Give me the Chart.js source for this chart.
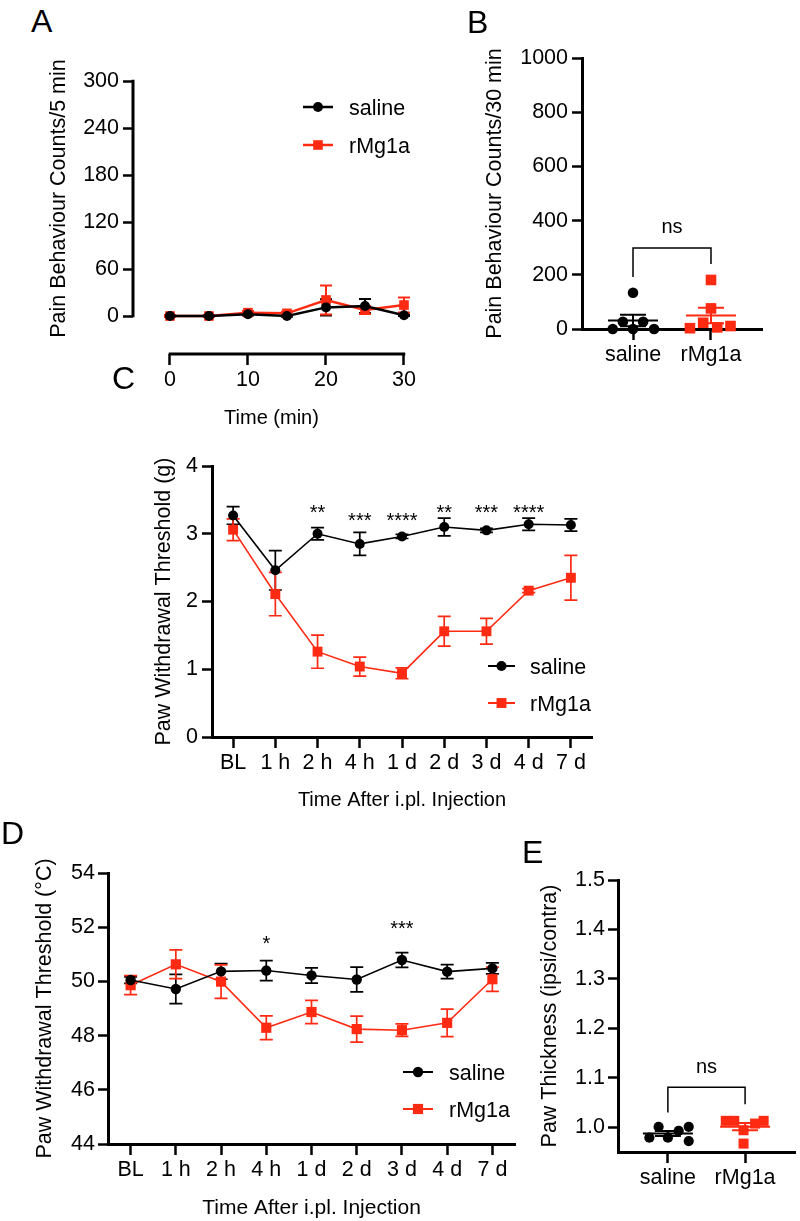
<!DOCTYPE html>
<html>
<head>
<meta charset="utf-8">
<script src="https://cdn.jsdelivr.net/npm/chart.js@4.4.1/dist/chart.umd.min.js"></script>
<style>
html,body{margin:0;padding:0;background:#fff;}
#wrap{position:relative;width:800px;height:1221px;overflow:hidden;background:#fff;}
canvas{position:absolute;}
.lbl{position:absolute;font-family:"Liberation Sans",Arial,Helvetica,sans-serif;font-size:32px;line-height:32px;color:#000;}
</style>
</head>
<body>
<div id="wrap">
  <canvas id="cA" width="425" height="410" style="left:0px;top:40px;width:425px;height:410px"></canvas>
  <canvas id="cB" width="380" height="370" style="left:420px;top:30px;width:380px;height:370px"></canvas>
  <canvas id="cC" width="560" height="380" style="left:140px;top:440px;width:560px;height:380px"></canvas>
  <canvas id="cD" width="540" height="376" style="left:0px;top:845px;width:540px;height:376px"></canvas>
  <canvas id="cE" width="323" height="371" style="left:480px;top:850px;width:323px;height:371px"></canvas>
  <div class="lbl" style="left:31px;top:5px">A</div>
  <div class="lbl" style="left:467px;top:6px">B</div>
  <div class="lbl" style="left:112px;top:362px">C</div>
  <div class="lbl" style="left:1px;top:817px">D</div>
  <div class="lbl" style="left:522px;top:836px">E</div>
</div>
<script>
// ---------------- DATA ----------------
const seriesNames = ['saline', 'rMg1a'];

// Panel A
const timeMin = [0, 5, 10, 15, 20, 25, 30];
const salineCountsA = [0, 0, 2.3, 0, 11, 12.8, 1];
const salineCountsAErr = [1, 1, 1.5, 1, 10.5, 9, 1];
const rmg1aCountsA = [0, 0, 4.3, 3.4, 20.5, 7.7, 14];
const rmg1aCountsAErr = [1, 1, 2, 2, 18.5, 5, 9.5];
const ticksAy = [0, 60, 120, 180, 240, 300];
const ticksAx = [0, 10, 20, 30];

// Panel B
const groups = ['saline', 'rMg1a'];
const salineTotalB = [0, 27, 0, 27, 0, 134];
const salineTotalBJitter = [-0.26, -0.13, 0, 0.13, 0.27, 0];
const rmg1aTotalB = [3, 23, 76, 181, 6, 11];
const rmg1aTotalBJitter = [-0.27, -0.1, 0, 0, 0.08, 0.25];
const ticksBy = [0, 200, 400, 600, 800, 1000];

// Panels C and D
const timepoints = ['BL', '1 h', '2 h', '4 h', '1 d', '2 d', '3 d', '4 d', '7 d'];
const salineMechC = [3.27, 2.46, 3.00, 2.85, 2.96, 3.10, 3.05, 3.14, 3.13];
const salineMechCErr = [0.13, 0.29, 0.09, 0.17, 0.03, 0.13, 0.03, 0.09, 0.09];
const rmg1aMechC = [3.06, 2.11, 1.26, 1.04, 0.94, 1.56, 1.56, 2.16, 2.35];
const rmg1aMechCErr = [0.16, 0.32, 0.245, 0.14, 0.08, 0.22, 0.19, 0.03, 0.33];
const starsC = ['', '', '**', '***', '****', '**', '***', '****', ''];
const starsCY = [null, null, 3.365, 3.247, 3.247, 3.365, 3.365, 3.365, null];
const ticksCy = [0, 1, 2, 3, 4];

const salineHeatD = [50.05, 49.72, 50.37, 50.40, 50.22, 50.07, 50.79, 50.36, 50.48];
const salineHeatDErr = [0.12, 0.54, 0.29, 0.37, 0.28, 0.46, 0.27, 0.26, 0.2];
const rmg1aHeatD = [49.86, 50.63, 49.99, 48.29, 48.87, 48.24, 48.20, 48.47, 50.08];
const rmg1aHeatDErr = [0.35, 0.53, 0.62, 0.44, 0.43, 0.48, 0.23, 0.51, 0.45];
const starsD = ['', '', '', '*', '', '', '***', '', ''];
const starsDY = [null, null, null, 51.53, null, null, 52.08, null, null];
const ticksDy = [44, 46, 48, 50, 52, 54];

// Panel E
const salineThickE = [0.979, 1.001, 0.979, 0.993, 1.001, 0.972];
const salineThickEJitter = [-0.24, -0.12, 0.0, 0.14, 0.27, 0.27];
const rmg1aThickE = [1.013, 1.013, 0.994, 0.967, 1.0075, 1.013];
const rmg1aThickEJitter = [-0.25, -0.14, -0.02, -0.02, 0.13, 0.24];
const ticksEy = [1.0, 1.1, 1.2, 1.3, 1.4, 1.5];

// ---------------- STYLE ----------------
const BLACK = '#000000';
const RED = '#FF2A12';
const FONT = '"Liberation Sans", Arial, Helvetica, sans-serif';
const TICK_SIZE = 21.5;
Chart.defaults.font.family = FONT;
Chart.defaults.color = BLACK;
Chart.defaults.animation = false;

function marker(ctx, style, x, y, r, color) {
  ctx.save();
  ctx.fillStyle = color;
  ctx.beginPath();
  if (style === 'rect') {
    const s = Math.SQRT1_2 * r;
    ctx.rect(x - s, y - s, 2 * s, 2 * s);
  } else {
    ctx.arc(x, y, r, 0, Math.PI * 2);
  }
  ctx.fill();
  ctx.restore();
}
function textCentered(ctx, text, x, cy, align) {
  ctx.textAlign = align || 'center';
  ctx.textBaseline = 'alphabetic';
  const m = ctx.measureText(text);
  ctx.fillText(text, x, cy + (m.actualBoundingBoxAscent - m.actualBoundingBoxDescent) / 2);
}

const panelExtras = {};

const extrasPlugin = {
  id: 'extras',
  beforeDatasetsDraw(chart) {
    const o = panelExtras[chart.canvas.id] || {};
    const ctx = chart.ctx, ys = chart.scales.y, xs = chart.scales.x;
    if (o.manualAxes) {
      ctx.save();
      ctx.strokeStyle = BLACK;
      ctx.lineWidth = 3;
      ctx.beginPath();
      const lx = chart.chartArea.left;
      ctx.moveTo(lx, ys.getPixelForValue(o.manualAxes.yTo) - 1.25);
      ctx.lineTo(lx, ys.getPixelForValue(o.manualAxes.yFrom) + 1.25);
      const by = chart.chartArea.bottom;
      ctx.moveTo(xs.getPixelForValue(o.manualAxes.xFrom) - 1.25, by);
      ctx.lineTo(xs.getPixelForValue(o.manualAxes.xTo) + 1.25, by);
      ctx.stroke();
      ctx.restore();
    }
    chart.data.datasets.forEach((ds, i) => {
      if (!ds.errors) return;
      const meta = chart.getDatasetMeta(i);
      const cw = o.capHalf || 6.5;
      ctx.save();
      ctx.strokeStyle = ds.borderColor;
      ctx.lineWidth = o.errWidth || 1.7;
      meta.data.forEach((pt, j) => {
        const raw = ds.data[j];
        const v = (typeof raw === 'object') ? raw.y : raw;
        const e = ds.errors[j];
        const y1 = ys.getPixelForValue(v + e), y2 = ys.getPixelForValue(v - e);
        ctx.beginPath();
        ctx.moveTo(pt.x, y1); ctx.lineTo(pt.x, y2);
        ctx.moveTo(pt.x - cw, y1); ctx.lineTo(pt.x + cw, y1);
        ctx.moveTo(pt.x - cw, y2); ctx.lineTo(pt.x + cw, y2);
        ctx.stroke();
      });
      ctx.restore();
    });
  },
  afterDatasetsDraw(chart) {
    const o = panelExtras[chart.canvas.id] || {};
    const ctx = chart.ctx, ys = chart.scales.y, xs = chart.scales.x;
    if (o.meanSem) {
      chart.data.datasets.forEach(ds => {
        const vals = ds.data.map(d => d.y);
        const n = vals.length;
        const m = vals.reduce((a, b) => a + b, 0) / n;
        const sd = Math.sqrt(vals.reduce((a, b) => a + (b - m) * (b - m), 0) / (n - 1));
        const sem = sd / Math.sqrt(n);
        const cx = xs.getPixelForValue(ds.group);
        const pm = ys.getPixelForValue(m), p1 = ys.getPixelForValue(m + sem), p2 = ys.getPixelForValue(m - sem);
        ctx.save();
        ctx.strokeStyle = ds.borderColor;
        ctx.lineWidth = 2;
        ctx.beginPath();
        ctx.moveTo(cx - 25, pm); ctx.lineTo(cx + 25, pm);
        ctx.moveTo(cx, p1); ctx.lineTo(cx, p2);
        ctx.moveTo(cx - 13, p1); ctx.lineTo(cx + 13, p1);
        ctx.moveTo(cx - 13, p2); ctx.lineTo(cx + 13, p2);
        ctx.stroke();
        ctx.restore();
      });
    }
  },
  afterDraw(chart) {
    const o = panelExtras[chart.canvas.id] || {};
    const ctx = chart.ctx, ys = chart.scales.y, xs = chart.scales.x;
    if (o.legend) {
      const L = o.legend;
      ctx.save();
      ctx.font = TICK_SIZE + 'px ' + FONT;
      chart.data.datasets.forEach((ds, i) => {
        const y = L.y + i * L.dy;
        ctx.strokeStyle = ds.borderColor;
        ctx.lineWidth = L.lineWidth;
        ctx.beginPath();
        ctx.moveTo(L.x, y); ctx.lineTo(L.x + L.len, y);
        ctx.stroke();
        marker(ctx, ds.pointStyle, L.x + L.len / 2, y, ds.pointRadius, ds.borderColor);
        ctx.fillStyle = BLACK;
        ctx.textAlign = 'left';
        ctx.textBaseline = 'alphabetic';
        ctx.fillText(ds.label, L.x + L.textOffset, y + 0.36 * TICK_SIZE);
      });
      ctx.restore();
    }
    if (o.stars) {
      ctx.save();
      ctx.font = '20px ' + FONT;
      ctx.fillStyle = BLACK;
      o.stars.labels.forEach((s, i) => {
        if (!s) return;
        textCentered(ctx, s, xs.getPixelForValue(i), ys.getPixelForValue(o.stars.y[i]));
      });
      ctx.restore();
    }
    if (o.bracket) {
      const b = o.bracket;
      const x1 = xs.getPixelForValue(1), x2 = xs.getPixelForValue(2);
      const yt = ys.getPixelForValue(b.top);
      ctx.save();
      ctx.strokeStyle = BLACK;
      ctx.lineWidth = 1.5;
      ctx.beginPath();
      ctx.moveTo(x1, ys.getPixelForValue(b.leftBottom));
      ctx.lineTo(x1, yt);
      ctx.lineTo(x2, yt);
      ctx.lineTo(x2, ys.getPixelForValue(b.rightBottom));
      ctx.stroke();
      ctx.font = '20px ' + FONT;
      ctx.fillStyle = BLACK;
      textCentered(ctx, b.label, (x1 + x2) / 2, ys.getPixelForValue(b.labelY));
      ctx.restore();
    }
    if (o.yTitle) {
      ctx.save();
      ctx.font = TICK_SIZE + 'px ' + FONT;
      ctx.fillStyle = BLACK;
      const cy = (ys.getPixelForValue(o.yTitle.from) + ys.getPixelForValue(o.yTitle.to)) / 2;
      ctx.translate(o.yTitle.x, cy);
      ctx.rotate(-Math.PI / 2);
      ctx.textAlign = 'center';
      ctx.textBaseline = 'middle';
      ctx.fillText(o.yTitle.text, 0, 0);
      ctx.restore();
    }
  }
};
Chart.register(extrasPlugin);

// ---------------- SCALE HELPERS ----------------
function yScale(cfg) {
  return {
    type: 'linear', min: cfg.min, max: cfg.max,
    afterBuildTicks: s => { s.ticks = cfg.ticks.map(v => ({ value: v })); },
    afterFit: s => { s.width = cfg.width; },
    border: { display: cfg.border !== false, color: BLACK, width: 3 },
    grid: { display: true, drawOnChartArea: false, drawTicks: true, tickLength: 10, tickWidth: 2.5, tickColor: BLACK },
    ticks: { font: { size: TICK_SIZE }, color: BLACK, padding: cfg.pad, autoSkip: false, callback: cfg.fmt || (v => String(v)) },
    title: cfg.title ? { display: true, text: cfg.title, font: { size: TICK_SIZE }, color: BLACK, padding: 0 } : { display: false }
  };
}
function xScaleCommon(cfg) {
  return {
    afterFit: s => { s.height = cfg.height; },
    border: { display: cfg.border !== false, color: BLACK, width: 3 },
    grid: { display: true, drawOnChartArea: false, drawTicks: true, tickLength: 11, tickWidth: 2.5, tickColor: BLACK, offset: false },
    ticks: { font: { size: TICK_SIZE }, color: BLACK, padding: 2, autoSkip: false, maxRotation: 0, minRotation: 0 },
    title: cfg.title ? { display: true, text: cfg.title, font: { size: cfg.titleSize || 20 }, color: BLACK, padding: 0 } : { display: false }
  };
}
function baseOptions(padding, scales) {
  return {
    responsive: false, maintainAspectRatio: false, devicePixelRatio: 1,
    animation: false, events: [],
    layout: { padding },
    plugins: { legend: { display: false }, tooltip: { enabled: false } },
    scales
  };
}
function lineDs(label, data, errors, color, style, radius, width) {
  return {
    label, data, errors,
    borderColor: color, backgroundColor: color,
    borderWidth: width, showLine: true, tension: 0, clip: false,
    pointStyle: style, pointRadius: radius, pointBorderWidth: 0,
    pointBackgroundColor: color, pointBorderColor: color
  };
}
function dotDs(label, values, jitter, group, color, style, radius) {
  return {
    label, group,
    data: values.map((v, i) => ({ x: group + jitter[i], y: v })),
    borderColor: color, backgroundColor: color, showLine: false, clip: false,
    pointStyle: style, pointRadius: radius, pointBorderWidth: 0,
    pointBackgroundColor: color, pointBorderColor: color
  };
}

// ---------------- PANEL A ----------------
panelExtras.cA = {
  manualAxes: { yFrom: 0, yTo: 300, xFrom: 0, xTo: 30 },
  legend: { x: 303, y: 67, dy: 38, len: 30, textOffset: 46, lineWidth: 2.5 },
  yTitle: { text: 'Pain Behaviour Counts/5 min', x: 59, from: 0, to: 300 },
  capHalf: 6, errWidth: 2
};
new Chart(document.getElementById('cA'), {
  type: 'scatter',
  data: {
    datasets: [
      lineDs(seriesNames[0], timeMin.map((t, i) => ({ x: t, y: salineCountsA[i] })), salineCountsAErr, BLACK, 'circle', 5, 2.5),
      lineDs(seriesNames[1], timeMin.map((t, i) => ({ x: t, y: rmg1aCountsA[i] })), rmg1aCountsAErr, RED, 'rect', 6.8, 2.5)
    ]
  },
  options: baseOptions({ left: 0, top: 41, right: 15, bottom: 20 }, {
    y: yScale({ min: -48.5, max: 300, ticks: ticksAy, width: 133, pad: 4, border: false }),
    x: Object.assign(xScaleCommon({ height: 76, title: 'Time (min)', titleSize: 20, border: false }), {
      type: 'linear', min: -4.74, max: 30.77,
      afterBuildTicks: s => { s.ticks = ticksAx.map(v => ({ value: v })); }
    })
  })
});

// ---------------- PANEL B ----------------
panelExtras.cB = {
  meanSem: true,
  bracket: { top: 299, leftBottom: 192, rightBottom: 240, label: 'ns', labelY: 373 }
};
(function () {
  const xs = Object.assign(xScaleCommon({ height: 71 }), {
    type: 'linear', min: 0.346, max: 2.654,
    afterBuildTicks: s => { s.ticks = groups.map((g, i) => ({ value: i + 1 })); }
  });
  xs.ticks.callback = v => groups[Math.round(v) - 1];
  new Chart(document.getElementById('cB'), {
    type: 'scatter',
    data: {
      datasets: [
        dotDs(groups[0], salineTotalB, salineTotalBJitter, 1, BLACK, 'circle', 5.3),
        dotDs(groups[1], rmg1aTotalB, rmg1aTotalBJitter, 2, RED, 'rect', 7.5)
      ]
    },
    options: baseOptions({ left: 62, top: 28, right: 38, bottom: 0 }, {
      y: yScale({ min: 0, max: 1000, ticks: ticksBy, width: 100, pad: 4, title: 'Pain Behaviour Counts/30 min' }),
      x: xs
    })
  });
})();

// ---------------- PANEL C ----------------
panelExtras.cC = {
  legend: { x: 348, y: 226, dy: 37, len: 27, textOffset: 42, lineWidth: 2 },
  stars: { labels: starsC, y: starsCY },
  capHalf: 6.5, errWidth: 1.7
};
new Chart(document.getElementById('cC'), {
  type: 'line',
  data: {
    labels: timepoints,
    datasets: [
      lineDs(seriesNames[0], salineMechC, salineMechCErr, BLACK, 'circle', 5, 1.6),
      lineDs(seriesNames[1], rmg1aMechC, rmg1aMechCErr, RED, 'rect', 7, 1.6)
    ]
  },
  options: baseOptions({ left: 11, top: 26, right: 108, bottom: 8 }, {
    y: yScale({ min: 0, max: 4, ticks: ticksCy, width: 61, pad: 4, title: 'Paw Withdrawal Threshold (g)' }),
    x: Object.assign(xScaleCommon({ height: 75, title: 'Time After i.pl. Injection', titleSize: 20 }), { type: 'category', offset: true })
  })
});

// ---------------- PANEL D ----------------
panelExtras.cD = {
  legend: { x: 403, y: 227, dy: 37, len: 30, textOffset: 46, lineWidth: 2 },
  stars: { labels: starsD, y: starsDY },
  capHalf: 6.5, errWidth: 1.7
};
new Chart(document.getElementById('cD'), {
  type: 'line',
  data: {
    labels: timepoints,
    datasets: [
      lineDs(seriesNames[0], salineHeatD, salineHeatDErr, BLACK, 'circle', 5.2, 1.6),
      lineDs(seriesNames[1], rmg1aHeatD, rmg1aHeatDErr, RED, 'rect', 7.2, 1.6)
    ]
  },
  options: baseOptions({ left: 32, top: 28, right: 25, bottom: 0 }, {
    y: yScale({ min: 44, max: 54, ticks: ticksDy, width: 76, pad: 3, title: 'Paw Withdrawal Threshold (°C)' }),
    x: Object.assign(xScaleCommon({ height: 77, title: 'Time After i.pl. Injection', titleSize: 21 }), { type: 'category', offset: true })
  })
});

// ---------------- PANEL E ----------------
panelExtras.cE = {
  meanSem: true,
  bracket: { top: 1.081, leftBottom: 1.030, rightBottom: 1.0466, label: 'ns', labelY: 1.1215 }
};
(function () {
  const xs = Object.assign(xScaleCommon({ height: 69 }), {
    type: 'linear', min: 0.354, max: 2.658,
    afterBuildTicks: s => { s.ticks = groups.map((g, i) => ({ value: i + 1 })); }
  });
  xs.ticks.callback = v => groups[Math.round(v) - 1];
  new Chart(document.getElementById('cE'), {
    type: 'scatter',
    data: {
      datasets: [
        dotDs(groups[0], salineThickE, salineThickEJitter, 1, BLACK, 'circle', 5.1),
        dotDs(groups[1], rmg1aThickE, rmg1aThickEJitter, 2, RED, 'rect', 7.1)
      ]
    },
    options: baseOptions({ left: 57, top: 30, right: 3, bottom: 0 }, {
      y: yScale({ min: 0.95, max: 1.5, ticks: ticksEy, width: 81, pad: 3, title: 'Paw Thickness (ipsi/contra)', fmt: v => Number(v).toFixed(1) }),
      x: xs
    })
  });
})();
</script>
</body>
</html>
